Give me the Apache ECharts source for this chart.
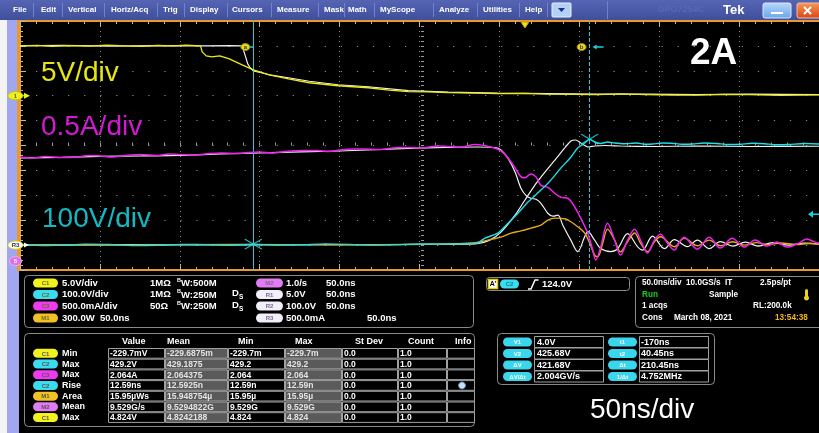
<!DOCTYPE html>
<html>
<head>
<meta charset="utf-8">
<script src="https://cdn.jsdelivr.net/npm/echarts@6.0.0/dist/echarts.min.js"></script>
<style>
html, body { margin: 0; padding: 0; background: #000; overflow: hidden; }
#scope { position: absolute; left: 0; top: 0; width: 819px; height: 433px; }
</style>
</head>
<body>
<div id="scope"></div>
<script>
// ---- acquisition: 50 ns/div, trigger at t = 0 ----
const timeRange = [-316, 184];

// C1 gate voltage (V)
const ch1Gate = [[-316,10.0],[-305,10.1],[-296,9.9],[-285,10.05],[-272,9.95],[-262,10.15],[-250,10.0],[-240,9.9],[-230,10.1],[-220,10.0],[-212,10.15],[-203,10.0],[-202,8.8],[-199.5,8.0],[-196,7.8],[-191,8.0],[-185,7.4],[-177,6.2],[-170,5.2],[-160,4.2],[-148,3.4],[-135,2.6],[-117,2.0],[-98,1.6],[-85,1.1],[-73,0.8],[-60,0.75],[-48,0.6],[-30,0.5],[-17,0.4],[0,0.45],[14,0.3],[30,0.25],[45,0.2],[60,0.35],[76,0.2],[92,0.1],[108,0.1],[124,0.25],[140,0.2],[160,0.05],[184,0.15]];
// C2 drain voltage (V)
const ch2Drain = [[-316,2],[-300,-2],[-290,0],[-275,4],[-260,3],[-245,-2],[-230,-1],[-215,3],[-200,2],[-185,-1],[-170,4],[-155,0],[-140,1],[-125,5],[-110,3],[-95,0],[-80,2],[-65,5],[-55,4],[-40,5],[-30,8],[-25,28],[-17,48],[-10.6,88],[-4.4,128],[1.9,173],[10,221],[16.2,261],[22.4,309],[28.7,353],[33,390],[37.4,410],[40.45,425.68],[43.6,414],[47.4,408],[51.7,414],[56,410],[62,407],[70,410],[75,405],[80,406],[86,410],[92,409],[98,405],[105,406],[112,410],[120,408],[127,404],[135,405],[142,409],[150,407],[157,403],[165,404],[175,408],[184,406]];
// C3 drain current (A)
const ch3Current = [[-316,1.77],[-308,1.75],[-300,1.78],[-290,1.76],[-280,1.77],[-273,1.80],[-266,1.79],[-258,1.77],[-250,1.80],[-240,1.82],[-230,1.80],[-223,1.83],[-216,1.82],[-208,1.81],[-200,1.83],[-190,1.85],[-180,1.84],[-173,1.86],[-166,1.87],[-158,1.85],[-150,1.88],[-140,1.90],[-130,1.90],[-123,1.88],[-116,1.91],[-108,1.93],[-100,1.93],[-92,1.92],[-85,1.94],[-79,1.96],[-73,1.96],[-66,1.95],[-60,1.97],[-54,1.99],[-48,1.98],[-40,1.97],[-31.2,2.02],[-21.2,1.97],[-15,1.89],[-10.6,1.75],[-6.2,1.55],[-2.5,1.37],[0,1.35],[3.7,1.43],[6.9,1.37],[10,1.20],[14.3,1.16],[18.7,1.04],[22.4,0.96],[26.8,0.94],[31.2,0.76],[34.9,0.54],[39.3,0.24],[42.4,-0.10],[44.3,-0.30],[47.4,-0.04],[51.7,0.44],[56.1,0.10],[59.8,-0.20],[64.2,0.10],[68.6,0.32],[72.3,0.10],[76.7,-0.16],[81,0.10],[84.8,0.22],[89.1,0.04],[93.5,-0.10],[96.6,0.06],[99.7,0.16],[103.5,0.04],[107.9,-0.08],[115.3,0.16],[122.2,-0.06],[129.7,0.14],[137.2,-0.04],[144,0.10],[151.5,-0.02],[157.7,0.06],[164,-0.04],[171.4,0.04],[176.4,0.12],[181.4,0.06],[184,0.04]];
// M1 switching power (W)
const math1Power = [[-316,5],[-250,0],[-180,8],[-120,3],[-60,10],[-31.2,28],[-21.2,69],[-15,96],[-8.7,145],[-2.5,172],[3.7,205],[10,241],[14.3,301],[18.7,325],[24.9,317],[28.7,281],[33,221],[37.4,145],[40.5,24],[43.6,-120],[45.5,-141],[48.6,20],[51.7,193],[56.1,60],[59.8,-81],[64.2,40],[68.6,145],[72.3,24],[76.7,-81],[81,40],[84.8,100],[93.5,-20],[99.7,84],[107.9,-8],[115.3,60],[122.2,-8],[130,40],[137,0],[145,30],[152,5],[160,25],[170,8],[178,20],[184,10]];
// R1 stored gate voltage (V)
const ref1Gate = [[-316,10.0],[-290,10.1],[-260,9.95],[-230,10.05],[-200,10.0],[-185,10.05],[-177,10.0],[-175,8.0],[-173.5,6.4],[-172,5.6],[-170,5.0],[-165,4.6],[-160,4.2],[-148,3.6],[-135,2.9],[-117,2.2],[-98,1.8],[-73,1.0],[-48,0.7],[-17,0.5],[14,0.4],[45,0.3],[76,0.3],[108,0.2],[140,0.3],[184,0.2]];
// R2 stored drain voltage (V)
const ref2Drain = [[-316,0],[-250,2],[-180,1],[-100,2],[-50,3],[-30,6],[-22,20],[-15,52],[-6.2,120],[0,181],[6.2,241],[12.5,293],[18.7,341],[24.9,390],[28.7,418],[31.8,422],[34.9,410],[39.3,394],[43.6,398],[50,400],[60,398],[80,396],[110,398],[140,396],[184,397]];
// R3 stored drain current (A)
const ref3Current = [[-316,1.75],[-290,1.76],[-266,1.78],[-240,1.79],[-216,1.80],[-190,1.83],[-166,1.85],[-140,1.87],[-116,1.89],[-90,1.92],[-73,1.94],[-50,1.96],[-30,1.97],[-18.7,1.96],[-15,1.91],[-10.6,1.74],[-6.2,1.47],[-2.5,1.14],[0.6,1.00],[3.7,0.94],[6.9,0.92],[10,0.84],[14.3,0.64],[17.5,0.58],[20.6,0.60],[23.7,0.40],[28.7,0.10],[33,-0.13],[37.4,0.17],[39.3,0.27],[43.6,0.10],[47.4,-0.07],[53.6,-0.13],[58,-0.07],[64.2,0.23],[70.4,-0.03],[73.6,-0.10],[79.8,0.18],[87.3,-0.07],[93.5,0.11],[101.6,-0.03],[107.9,0.10],[115.3,-0.07],[122.2,0.07],[130,-0.02],[138,0.06],[146,-0.02],[155,0.05],[165,0.0],[175,0.04],[184,0.02]];

// waveform cursors (a, b) on C2
const cursorTimes = [-170, 40.45];
const cursorVolts = [4.0, 425.68];
const triggerLevel = 124.0;

// vertical settings: units per division, divisions of the zero level above the bottom edge
const ch1Scale = 5,   ch1Zero = 7;
const ch2Scale = 100, ch2Zero = 1;
const ch3Scale = 0.5, ch3Zero = 1;
const m1Scale = 300,  m1Zero = 1;

// menu bar
const menuItems = ['File','Edit','Vertical','Horiz/Acq','Trig','Display','Cursors','Measure','Mask','Math','MyScope','Analyze','Utilities','Help'];

// channel setup panel
const setupLeft = [
  ['C1','5.0V/div','1MΩ','W:500M',''],
  ['C2','100.0V/div','1MΩ','W:250M','D'],
  ['C3','500.0mA/div','50Ω','W:250M','D'],
  ['M1','300.0W  50.0ns','','','']
];
const setupRight = [['M2','1.0/s','50.0ns'],['R1','5.0V','50.0ns'],['R2','100.0V','50.0ns'],['R3','500.0mA','50.0ns']];

// measurement table
const measHeader = ['Value','Mean','Min','Max','St Dev','Count','Info'];
const measSource = ['C1','C2','C3','C2','M1','M2','C1'];
const measName = ['Min','Max','Max','Rise','Area','Mean','Max'];
const measValue = ['-229.7mV','429.2V','2.064A','12.59ns','15.95µWs','9.529G/s','4.824V'];
const measMean = ['-229.6875m','429.1875','2.064375','12.5925n','15.948754µ','9.5294822G','4.8242188'];
const measMin = ['-229.7m','429.2','2.064','12.59n','15.95µ','9.529G','4.824'];
const measMax = ['-229.7m','429.2','2.064','12.59n','15.95µ','9.529G','4.824'];
const measStDev = ['0.0','0.0','0.0','0.0','0.0','0.0','0.0'];
const measCount = ['1.0','1.0','1.0','1.0','1.0','1.0','1.0'];

// cursor readouts
const cursorLeft = [['V1','4.0V'],['V2','425.68V'],['ΔV','421.68V'],['ΔV/Δt','2.004GV/s']];
const cursorRight = [['t1','-170ns'],['t2','40.45ns'],['Δt','210.45ns'],['1/Δt','4.752MHz']];

// horizontal / acquisition panel
const acqLines = [
  [['50.0ns/div','#fff'],['10.0GS/s','#fff'],['IT','#fff'],['2.5ps/pt','#fff']],
  [['Run','#19d219'],['Sample','#fff']],
  [['1 acqs','#fff'],['RL:200.0k','#fff']],
  [['Cons','#fff'],['March 08, 2021','#fff'],['13:54:38','#f2b51c']]
];

// ------------------------------------------------------------
const F = '"Liberation Sans", Arial, sans-serif';
const COL = { c1: '#ecec10', c2: '#1ee0ea', c3: '#ee22ee', m1: '#e4a818', ref: '#f2f2f2' };
const badgeCol = { C1: '#f2f21e', C2: '#3adcf0', C3: '#f03af0', M1: '#f2c224', M2: '#e27cf2', R1: '#f2eefa', R2: '#f2eefa', R3: '#f2eefa' };

const chart = echarts.init(document.getElementById('scope'), null, { renderer: 'canvas' });

const GRID = { left: 20, top: 21, width: 802, height: 249 };
const border = '#e8982c';
const tickCol = '#cbb394';
const dotCol = '#8a8a8a';

function chanAxis(scale, zero) {
  return { type: 'value', show: false, min: -zero * scale, max: (10 - zero) * scale,
    axisLine: { show: false, onZero: false } };
}

function wave(name, data, yIdx, color, width, z, smooth) {
  return {
    name, type: 'line', xAxisIndex: 2, yAxisIndex: yIdx, data,
    symbol: 'none', showSymbol: false, smooth: smooth || 0,
    lineStyle: { color, width }, z, silent: true, animation: false
  };
}

function divAxis(position, extra) {
  return Object.assign({
    type: 'value', min: 0, max: 10, interval: 1, position,
    axisLine: { show: true, onZero: false, lineStyle: { color: border, width: 2 } },
    axisTick: { show: true, inside: true, length: 6, lineStyle: { color: tickCol } },
    minorTick: { show: true, splitNumber: 5, length: 3, lineStyle: { color: tickCol } },
    axisLabel: { show: false }, splitLine: { show: false }
  }, extra || {});
}

const centreTicks = {
  axisLine: { show: false, onZero: false },
  axisTick: { show: true, inside: true, length: 3, lineStyle: { color: '#9a9a9a' } },
  minorTick: { show: true, splitNumber: 5, length: 3, lineStyle: { color: '#9a9a9a' } }
};

const option = {
  backgroundColor: '#000',
  animation: false,
  grid: GRID,
  xAxis: [
    divAxis('bottom', { splitLine: { show: true, lineStyle: { color: dotCol, width: 1, type: [1, 4] } } }),
    divAxis('top'),
    { type: 'value', min: timeRange[0], max: timeRange[1], show: false, axisLine: { show: false, onZero: false } },
    divAxis('bottom', Object.assign({ offset: -124.5 }, centreTicks))
  ],
  yAxis: [
    divAxis('left', { splitLine: { show: true, lineStyle: { color: dotCol, width: 1.2, type: [1.2, 14.84] } } }),
    chanAxis(ch1Scale, ch1Zero),
    chanAxis(ch2Scale, ch2Zero),
    chanAxis(ch3Scale, ch3Zero),
    chanAxis(m1Scale, m1Zero),
    divAxis('left', Object.assign({ offset: -401 }, centreTicks))
  ],
  series: [
    wave('R1', ref1Gate, 1, COL.ref, 1.2, 3, 0),
    wave('R2', ref2Drain, 2, COL.ref, 1.2, 3, 0.2),
    wave('R3', ref3Current, 3, COL.ref, 1.2, 3, 0.35),
    wave('M1', math1Power, 4, COL.m1, 1.4, 4, 0.35),
    wave('C3', ch3Current, 3, COL.c3, 1.5, 5, 0.35),
    Object.assign(wave('C2', ch2Drain, 2, COL.c2, 1.4, 6, 0.2), {
      markLine: {
        symbol: 'none', silent: true, animation: false, label: { show: false },
        data: [
          { xAxis: cursorTimes[0], lineStyle: { color: '#1ccfe0', width: 1, type: 'solid' } },
          { xAxis: cursorTimes[1], lineStyle: { color: '#1ccfe0', width: 1, type: [4, 2] } }
        ]
      }
    }),
    wave('C1', ch1Gate, 1, COL.c1, 1.3, 7, 0),
    { name: 'cursorX', type: 'scatter', xAxisIndex: 2, yAxisIndex: 2,
      data: cursorTimes.map((t, i) => [t, cursorVolts[i]]),
      symbol: 'path://M0,0L10,10M10,0L0,10', symbolSize: [17, 10],
      itemStyle: { color: 'none', borderColor: '#1ee0ea', borderWidth: 1.2 },
      z: 8, silent: true, animation: false }
  ]
};
chart.setOption(option);

// ---- screen furniture: menu, markers, readout panels ----
const G = [];
function rect(x, y, w, h, fill, stroke, r, lw) {
  G.push({ type: 'rect', silent: true, z: 20, shape: { x, y, width: w, height: h, r: r || 0 },
    style: { fill: fill || 'none', stroke: stroke || null, lineWidth: lw || 1 } });
}
function txt(x, y, s, color, font, align) {
  G.push({ type: 'text', silent: true, z: 21, x, y,
    style: { text: s, fill: color, font, align: align || 'left', verticalAlign: 'middle' } });
}
function poly(points, fill, stroke, lw) {
  G.push({ type: 'polygon', silent: true, z: 21, shape: { points },
    style: { fill: fill || 'none', stroke: stroke || null, lineWidth: lw || 1 } });
}
function line(x1, y1, x2, y2, stroke, lw) {
  G.push({ type: 'line', silent: true, z: 21, shape: { x1, y1, x2, y2 }, style: { stroke, lineWidth: lw || 1 } });
}
function ellipse(cx, cy, rx, ry, fill, stroke) {
  G.push({ type: 'ellipse', silent: true, z: 21, shape: { cx, cy, rx, ry }, style: { fill, stroke: stroke || null, lineWidth: 1 } });
}
function badge(x, y, w, label, fill, tcol) {
  rect(x, y - 4.5, w, 9, fill, null, 4.5);
  txt(x + w / 2, y + 0.5, label, tcol || '#6a6a20', 'bold 6px ' + F, 'center');
}

// left frame strip
rect(0, 20, 7, 413, '#f4f4f6');
rect(7, 20, 12, 413, '#a0a7f0');
rect(17, 20, 3, 251, border);

// menu bar
G.push({ type: 'rect', silent: true, z: 20, shape: { x: 0, y: 0, width: 819, height: 20 },
  style: { fill: new echarts.graphic.LinearGradient(0, 0, 0, 1, [{ offset: 0, color: '#5565b4' }, { offset: 1, color: '#3f4f9c' }]) } });
const menuX = [13, 41, 68, 111, 163, 190, 232, 277, 324, 348, 380, 439, 483, 525];
const menuSep = [33, 62, 104, 157, 184, 227, 271, 318, 344, 374, 433, 477, 519, 547];
menuItems.forEach((m, i) => txt(menuX[i], 10, m, '#fff', 'bold 8px ' + F));
menuSep.forEach(x => line(x + 0.5, 3, x + 0.5, 17, '#7382c8', 1));
rect(552, 3, 19, 14, '#b4d0f4', '#e8f0ff', 1);
poly([[558, 8], [565, 8], [561.5, 12]], '#1a2f8a');
line(607.5, 1, 607.5, 19, '#7382c8', 1);
txt(658, 10, 'DPO7254C', '#5868b6', 'bold 9px ' + F);
txt(723, 10, 'Tek', '#fff', 'bold 13px ' + F);
G.push({ type: 'rect', silent: true, z: 20, shape: { x: 763, y: 3, width: 28, height: 15, r: 2 },
  style: { fill: new echarts.graphic.LinearGradient(0, 0, 0, 1, [{ offset: 0, color: '#b8d8fa' }, { offset: 1, color: '#6aa4ea' }]), stroke: '#dbe8ff' } });
line(771, 13, 783, 13, '#fff', 2);
G.push({ type: 'rect', silent: true, z: 20, shape: { x: 797, y: 3, width: 26, height: 15, r: 2 },
  style: { fill: new echarts.graphic.LinearGradient(0, 0, 0, 1, [{ offset: 0, color: '#f59a5a' }, { offset: 1, color: '#dc4414' }]), stroke: '#f5c0a0' } });
line(804, 7, 811, 14, '#fff', 2);
line(811, 7, 804, 14, '#fff', 2);

// on-screen scale labels
txt(41, 73, '5V/div', '#e6e614', '28px ' + F);
txt(41, 127, '0.5A/div', '#d21ad2', '28px ' + F);
txt(42, 219, '100V/div', '#14b8c2', '28px ' + F);
txt(690, 54, '2A', '#fff', 'bold 37px ' + F);
txt(590, 410, '50ns/div', '#fff', '28px ' + F);

// markers tied to the axes
const px = (t) => chart.convertToPixel({ xAxisIndex: 2 }, t);
const py = (idx, v) => chart.convertToPixel({ yAxisIndex: idx }, v);
const y1 = py(1, 0), yR = py(3, 0);
ellipse(15.5, y1, 7.5, 4, '#f0f020', '#c8c800');
txt(15.5, y1 + 0.5, '1', '#6a6a00', 'bold 6px ' + F, 'center');
poly([[24, y1 - 3], [30, y1], [24, y1 + 3]], '#f0f020');
ellipse(15.5, yR, 7.5, 4, '#fff', '#e8d800');
txt(15.5, yR + 0.5, 'R3', '#333', 'bold 6px ' + F, 'center');
poly([[24, yR - 2.5], [29, yR], [24, yR + 2.5]], '#fff');
ellipse(15.5, yR + 16, 6, 4.5, '#e070e8', '#f0b0f0');
txt(15.5, yR + 16.5, '5', '#fff', 'bold 6px ' + F, 'center');

const tx0 = px(0);
poly([[tx0 - 4, 22], [tx0 + 4, 22], [tx0, 28]], '#f0e020', '#c0a000');
const ca = px(cursorTimes[0]), cb = px(cursorTimes[1]);
ellipse(ca - 8, 47, 4.5, 3.5, '#e6d81a', '#a09000');
txt(ca - 8, 47.5, 'a', '#333', 'bold 6px ' + F, 'center');
line(ca - 3.5, 47, ca, 47, '#1ccfe0', 1.5);
ellipse(cb - 8, 47, 4.5, 3.5, '#e6d81a', '#a09000');
txt(cb - 8, 47.5, 'b', '#333', 'bold 6px ' + F, 'center');
line(cb + 6, 47, cb + 14, 47, '#1ccfe0', 1.5);
poly([[cb + 3, 47], [cb + 7, 44.5], [cb + 7, 49.5]], '#1ccfe0');
const tl = py(2, triggerLevel);
poly([[808, tl], [813, tl - 3.5], [813, tl + 3.5]], '#1ccfe0');
line(812, tl, 819, tl, '#1ccfe0', 1.5);

// channel setup panel
const B9 = 'bold 9.5px ' + F;
const B8 = 'bold 8.2px ' + F;
rect(24.5, 275.5, 449, 52, '#000', '#8a8a8a', 4);
const setupY = [283, 294.5, 306, 318];
setupLeft.forEach((r, i) => {
  const y = setupY[i];
  badge(33, y, 25, r[0], badgeCol[r[0]]);
  txt(62, y, r[1], '#fff', B9);
  if (r[2]) txt(150, y, r[2], '#fff', B9);
  if (r[3]) { txt(177, y - 3, 'B', '#fff', 'bold 5.5px ' + F); txt(181, y + 0.5, r[3], '#fff', B9); }
  if (r[4]) { txt(232, y - 1, r[4], '#fff', B9); txt(239, y + 3, 'S', '#fff', 'bold 6.5px ' + F); }
});
setupRight.forEach((r, i) => {
  const y = setupY[i];
  badge(256, y, 27, r[0], badgeCol[r[0]], '#7a6a8a');
  txt(286, y, r[1], '#fff', B9);
  txt(i === 3 ? 367 : 326, y, r[2], '#fff', B9);
});

// trigger panel
rect(486.5, 277.5, 143, 13, '#000', '#8a8a8a', 3);
rect(488.5, 279.5, 9, 9, '#fff', '#e8d000', 0, 1.5);
txt(493, 284.5, "A'", '#000', 'bold 7px ' + F, 'center');
badge(500, 284, 19, 'C2', badgeCol.C2, '#1a7a8a');
G.push({ type: 'polyline', silent: true, z: 21, shape: { points: [[528, 289], [531, 289], [535, 280], [538.5, 280]] }, style: { stroke: '#fff', lineWidth: 1.5 } });
txt(542, 284, '124.0V', '#fff', B9);

// horizontal panel
rect(635.5, 276.5, 190, 51, '#000', '#8a8a8a', 4);
const acqX = [[642, 686, 725, 760], [642, 709], [642, 753], [642, 674, 775]];
const acqY = [283, 294.5, 306, 318];
acqLines.forEach((row, i) => row.forEach((c, j) => txt(acqX[i][j], acqY[i], c[0], c[1], B8)));
rect(805, 289, 3, 8, '#f0d020', null, 1.5);
ellipse(806.5, 298, 2.5, 2.5, '#f0d020');

// measurement table
rect(24.5, 333.5, 450, 93, '#000', '#8a8a8a', 4);
const colX = [108, 165, 228, 285, 342, 398, 447, 475];
const headX = [122, 167, 238, 295, 355, 408, 455];
const greyCol = [false, true, false, true, false, false, false];
measHeader.forEach((h, j) => txt(headX[j], 342, h, '#fff', 'bold 9px ' + F));
const cols = [measValue, measMean, measMin, measMax, measStDev, measCount];
const rowTop = 348, rowH = 10.7;
for (let i = 0; i < measName.length; i++) {
  const y0 = rowTop + i * rowH, yc = y0 + rowH / 2;
  badge(33, yc, 25, measSource[i], badgeCol[measSource[i]], '#555');
  txt(62, yc, measName[i], '#fff', 'bold 9px ' + F);
  for (let j = 0; j < 7; j++) {
    rect(colX[j] + 0.5, y0 + 0.5, colX[j + 1] - colX[j] - 1, rowH - 1, greyCol[j] ? '#5a5a5a' : '#000', '#a0a0a0', 0, 1);
    if (j < 6) txt(colX[j] + 2, yc + 0.5, cols[j][i], greyCol[j] ? '#e4e4e4' : '#fff', 'bold 8.5px ' + F);
  }
}
ellipse(462, rowTop + 3 * rowH + rowH / 2, 3.5, 3.5, '#c8e0f0', '#4a90c0');

// cursor readout table
rect(497.5, 333.5, 217, 51, '#000', '#8a8a8a', 4);
const curY = [342, 353.5, 365, 376.5];
cursorLeft.forEach((c, i) => {
  badge(503, curY[i], 29, c[0], '#3ad6ee', '#fff');
  rect(534.5, curY[i] - 5.5, 69, 11, '#000', '#a0a0a0');
  txt(537, curY[i] + 0.5, c[1], '#fff', 'bold 9px ' + F);
});
cursorRight.forEach((c, i) => {
  badge(608, curY[i], 29, c[0], '#3ad6ee', '#fff');
  rect(639.5, curY[i] - 5.5, 69, 11, '#000', '#a0a0a0');
  txt(641, curY[i] + 0.5, c[1], '#fff', 'bold 9px ' + F);
});

chart.setOption({ graphic: G });
</script>
</body>
</html>
